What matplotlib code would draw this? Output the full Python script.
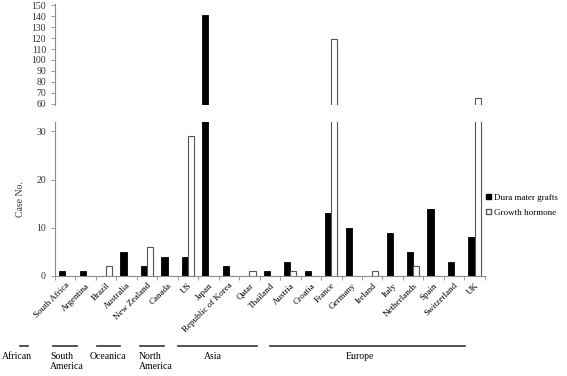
import numpy as np
import matplotlib.pyplot as plt
from matplotlib.lines import Line2D
from matplotlib.patches import Patch

plt.rcParams['font.family'] = ['Liberation Serif', 'DejaVu Serif']

# datos
paises = ["South Africa", "Argentina", "Brazil", "Australia", "New Zealand", "Canada",
          "US", "Japan", "Republic of Korea", "Qatar", "Thailand", "Austria", "Croatia",
          "France", "Germany", "Ireland", "Italy", "Netherlands", "Spain", "Switzerland", "UK"]
duramadre = [1, 1, 0, 5, 2, 4, 4, 141, 2, 0, 1, 3, 1, 13, 10, 0, 9, 5, 14, 3, 8]
hormona = [0, 0, 2, 0, 6, 0, 29, 0, 0, 1, 0, 1, 0, 119, 0, 1, 0, 2, 0, 0, 65]

regiones = ["African", "South\nAmerica", "Oceanica", "North\nAmerica", "Asia", "Europe"]

x = np.arange(len(paises))
w = 0.3
gris = '#8c8c8c'

fig = plt.figure(figsize=(5.67, 3.76), dpi=100)
ax_top = fig.add_axes([0.097, 0.721, 0.758, 0.268])
ax_bot = fig.add_axes([0.097, 0.266, 0.758, 0.41])

for ax in (ax_top, ax_bot):
    ax.bar(x - w / 2, duramadre, w, color='black', edgecolor='black', linewidth=0.6)
    ax.bar(x + w / 2, hormona, w, color='white', edgecolor='#555555', linewidth=0.8)
    ax.set_xlim(-0.5, len(paises) - 0.5)
    for s in ['top', 'right']:
        ax.spines[s].set_visible(False)
    ax.spines['left'].set_color(gris)
    ax.spines['bottom'].set_color(gris)
    ax.tick_params(axis='y', colors=gris, labelcolor='#333333', labelsize=7, length=3, width=0.6)

"----------parte de arriba---------"
ax_top.set_ylim(59, 151)
ax_top.set_yticks(np.arange(60, 151, 10))
ax_top.spines['bottom'].set_visible(False)
ax_top.set_xticks([])

"----------parte de abajo---------"
ax_bot.set_ylim(0, 32)
ax_bot.set_yticks([0, 10, 20, 30])
ax_bot.set_xticks(x)
ax_bot.set_xticklabels(paises, rotation=45, ha='right', rotation_mode='anchor', fontsize=6.5)
ax_bot.tick_params(axis='x', which='major', length=0, pad=4)
ax_bot.set_xticks(np.arange(-0.5, len(paises), 1), minor=True)
ax_bot.tick_params(axis='x', which='minor', length=3, color=gris, width=0.6)
ax_bot.set_ylabel("Case No.", fontsize=7, labelpad=8, color='#333333')

ax_bot.legend(handles=[Patch(facecolor='black', edgecolor='black'),
                       Patch(facecolor='white', edgecolor='#555555')],
              labels=["Dura mater grafts", "Growth hormone"],
              loc='center left', bbox_to_anchor=(0.858, 0.454), bbox_transform=fig.transFigure,
              frameon=False, fontsize=6.5, handlelength=0.5, handleheight=0.5,
              handletextpad=0.3, labelspacing=0.8, borderpad=0, borderaxespad=0)

# lineas de regiones
lineas = [(20, 28), (53, 77), (97, 120), (140, 164), (178, 257), (270, 465)]
etiquetas = [(2, 'left'), (50, 'left'), (108, 'center'), (139, 'left'), (213, 'center'), (360, 'center')]
for (a, b), (px, ha), r in zip(lineas, etiquetas, regiones):
    fig.add_artist(Line2D([a / 567, b / 567], [1 - 346 / 376] * 2, color='#333333', lw=1.2))
    fig.text(px / 567, 1 - 352 / 376, r, ha=ha, va='top', fontsize=7, linespacing=1.1)

plt.savefig('out.png', dpi=100)
